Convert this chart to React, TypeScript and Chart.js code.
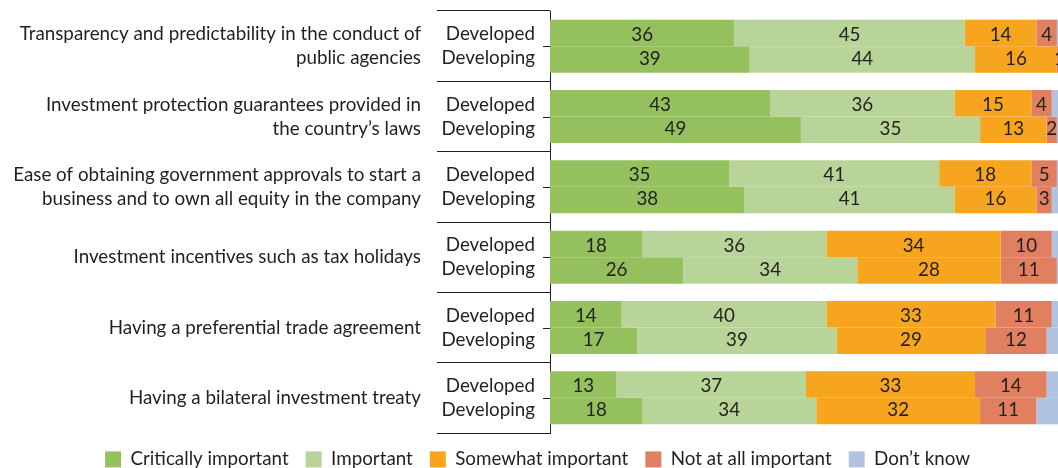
import React, { useEffect, useRef } from 'react';
import { Chart, registerables } from 'chart.js';

Chart.register(...registerables);

const categories: string[][] = [
  ['Transparency and predictability in the conduct of', 'public agencies'],
  ['Investment protection guarantees provided in', 'the country\u2019s laws'],
  ['Ease of obtaining government approvals to start a', 'business and to own all equity in the company'],
  ['Investment incentives such as tax holidays'],
  ['Having a preferential trade agreement'],
  ['Having a bilateral investment treaty'],
];
const groups = ['Developed', 'Developing'];
const seriesNames = ['Critically important', 'Important', 'Somewhat important', 'Not at all important', 'Don\u2019t know'];
const seriesColors = ['#95c05e', '#b8d498', '#f7a51e', '#e08060', '#b0c4e2'];

const developedCritical = [36, 43, 35, 18, 14, 13];
const developedImportant = [45, 36, 41, 36, 40, 37];
const developedSomewhat = [14, 15, 18, 34, 33, 33];
const developedNotAtAll = [4, 4, 5, 10, 11, 14];
const developedDontKnow = [1, 2, 1, 2, 2, 3];

const developingCritical = [39, 49, 38, 26, 17, 18];
const developingImportant = [44, 35, 41, 34, 39, 34];
const developingSomewhat = [16, 13, 16, 28, 29, 32];
const developingNotAtAll = [1, 2, 3, 11, 12, 11];
const developingDontKnow = [0, 1, 2, 1, 3, 5];

const developedSeries = [developedCritical, developedImportant, developedSomewhat, developedNotAtAll, developedDontKnow];
const developingSeries = [developingCritical, developingImportant, developingSomewhat, developingNotAtAll, developingDontKnow];

const FONT = 'Lato';
const FS = 18.8;
const TEXT = '#231f20';

const overlayPlugin = {
  id: 'overlay',
  afterDatasetsDraw(chart: any) {
    const { ctx } = chart;
    const yScale = chart.scales.y;
    ctx.save();
    ctx.font = `${FS}px ${FONT}`;
    ctx.fillStyle = TEXT;
    ctx.textAlign = 'center';
    ctx.textBaseline = 'middle';
    chart.data.datasets.forEach((ds: any, di: number) => {
      if (ds.noLabel) return;
      const meta = chart.getDatasetMeta(di);
      meta.data.forEach((bar: any, i: number) => {
        const v = ds.data[i];
        if (!v) return;
        const p = bar.getProps(['x', 'y', 'base'], true);
        const yc = yScale.getPixelForValue(i);
        const ty = ds.stack === 'dev' ? yc - 11.5 : yc + 12.5;
        ctx.fillText(String(v), (p.x + p.base) / 2, ty);
      });
    });
    ctx.restore();
  },
  afterDraw(chart: any) {
    const { ctx, chartArea } = chart;
    const yScale = chart.scales.y;
    ctx.save();
    ctx.font = `${FS}px ${FONT}`;
    ctx.fillStyle = TEXT;
    ctx.textAlign = 'right';
    ctx.textBaseline = 'middle';
    ctx.strokeStyle = '#231f20';
    ctx.lineWidth = 1;
    categories.forEach((_, i) => {
      const yc = yScale.getPixelForValue(i);
      ctx.fillText(groups[0], chartArea.left - 15, yc - 12);
      ctx.fillText(groups[1], chartArea.left - 15, yc + 12);
      const yy = Math.round(yc) + 0.5;
      ctx.beginPath();
      ctx.moveTo(chartArea.left - 7, yy);
      ctx.lineTo(chartArea.left, yy);
      ctx.stroke();
    });
    ctx.restore();
  },
};

export default function App() {
  const ref = useRef<HTMLCanvasElement | null>(null);
  useEffect(() => {
    if (!ref.current) return;
    const datasets: any[] = [];
    developedSeries.forEach((d, k) => {
      datasets.push({
        label: seriesNames[k],
        data: d,
        stack: 'dev',
        backgroundColor: seriesColors[k],
        borderWidth: 0,
        noLabel: k === 4,
      });
    });
    developingSeries.forEach((d, k) => {
      datasets.push({
        label: seriesNames[k],
        data: d,
        stack: 'dvg',
        backgroundColor: seriesColors[k],
        borderWidth: 0,
        noLabel: k === 4,
      });
    });
    const chart = new Chart(ref.current, {
      type: 'bar',
      data: { labels: categories, datasets },
      options: {
        indexAxis: 'y',
        animation: false,
        responsive: true,
        maintainAspectRatio: false,
        datasets: { bar: { categoryPercentage: 0.754, barPercentage: 1 } },
        layout: { padding: { left: 13, right: 13, top: 11, bottom: 0 } },
        scales: {
          x: { stacked: true, min: 0, max: 100, display: false },
          y: {
            z: 1,
            afterFit: (scale: any) => {
              scale.width = 537;
              scale.paddingTop = 0;
              scale.paddingBottom = 0;
            },
            grid: {
              offset: true,
              drawOnChartArea: false,
              tickLength: 113,
              color: '#231f20',
              lineWidth: 1,
            },
            border: { display: true, color: '#231f20', width: 1 },
            ticks: {
              padding: 16,
              color: TEXT,
              font: { family: FONT, size: FS, lineHeight: 24 / FS },
            },
          },
        },
        plugins: {
          legend: {
            position: 'bottom',
            maxHeight: 35,
            labels: {
              filter: (item: any) => item.datasetIndex < 5,
              boxWidth: 16,
              boxHeight: 16,
              padding: 17,
              color: TEXT,
              font: { family: FONT, size: FS },
            },
          },
          tooltip: { enabled: false },
        },
      },
      plugins: [overlayPlugin],
    });
    return () => chart.destroy();
  }, []);
  return (
    <div style={{ position: 'absolute', left: 0, top: 0, width: 1058, height: 468, overflow: 'hidden', background: '#fff' }}>
      <div style={{ position: 'relative', width: 1075, height: 468 }}>
        <canvas ref={ref} />
      </div>
    </div>
  );
}
